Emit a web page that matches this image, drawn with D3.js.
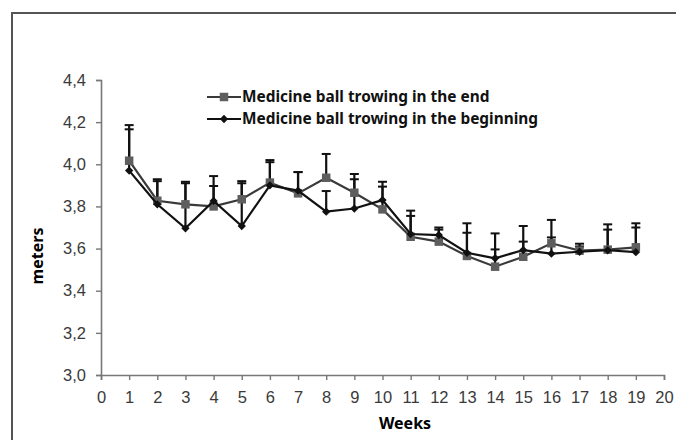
<!DOCTYPE html>
<html>
<head>
<meta charset="utf-8">
<script src="https://cdn.jsdelivr.net/npm/d3@7"></script>
<style>
    body { margin: 0; background: #fff; }
    svg { display: block; }
</style>
</head>
<body>
<div id="chart"></div>
<script>
// data
const weeks = [1, 2, 3, 4, 5, 6, 7, 8, 9, 10, 11, 12, 13, 14, 15, 16, 17, 18, 19];
const endMeans = [4.017, 3.827, 3.81, 3.80, 3.834, 3.913, 3.862, 3.936, 3.865, 3.786, 3.656, 3.633, 3.565, 3.514, 3.561, 3.625, 3.59, 3.595, 3.606];
const endTops = [4.186, 3.929, 3.917, 3.897, 3.92, 4.02, 3.963, 4.049, 3.954, 3.894, 3.78, 3.70, 3.72, 3.672, 3.707, 3.736, 3.623, 3.715, 3.72];
const beginMeans = [3.97, 3.81, 3.696, 3.826, 3.707, 3.90, 3.875, 3.775, 3.79, 3.83, 3.669, 3.664, 3.58, 3.554, 3.593, 3.576, 3.585, 3.592, 3.583];
const beginTops = [4.166, 3.92, 3.91, 3.944, 3.91, 4.01, 3.963, 3.873, 3.929, 3.917, 3.755, 3.69, 3.675, 3.596, 3.633, 3.653, 3.61, 3.69, 3.70];
const yTicks = [3.0, 3.2, 3.4, 3.6, 3.8, 4.0, 4.2, 4.4];
const xTicks = d3.range(0, 21);
const legendLabels = ["Medicine ball trowing in the end", "Medicine ball trowing in the beginning"];

const width = 676, height = 440;
const margin = {top: 80, right: 12, bottom: 65, left: 101};

const svg = d3.select("#chart").append("svg")
    .attr("width", width)
    .attr("height", height);

// outer frame (cropped on the right and bottom)
svg.append("rect")
    .attr("x", 12).attr("y", 13)
    .attr("width", width).attr("height", height)
    .attr("fill", "none")
    .attr("stroke", "#555")
    .attr("stroke-width", 2);

const x = d3.scaleLinear().domain([0, 20]).range([margin.left, width - margin.right]);
const y = d3.scaleLinear().domain([3.0, 4.4]).range([height - margin.bottom, margin.top]);

const fmt = d => d3.format(".1f")(d).replace(".", ",");

// axes
const yAxis = svg.append("g")
    .attr("transform", `translate(${margin.left},0)`)
    .call(d3.axisLeft(y).tickValues(yTicks).tickFormat(fmt).tickSize(5).tickPadding(10));
const xAxis = svg.append("g")
    .attr("transform", `translate(0,${y(3.0)})`)
    .call(d3.axisBottom(x).tickValues(xTicks).tickSize(5).tickPadding(11));

[xAxis, yAxis].forEach(g => {
    g.select(".domain").attr("stroke", "#777").attr("stroke-width", 1.6);
    g.selectAll(".tick line").attr("stroke", "#777").attr("stroke-width", 1.4);
    g.selectAll(".tick text")
        .attr("fill", "#3a3a3a")
        .style("font-family", "'Liberation Sans', Arial, sans-serif")
        .style("font-size", "16.5px");
});

// axis titles
svg.append("text")
    .attr("transform", `translate(43,256) rotate(-90)`)
    .attr("text-anchor", "middle")
    .style("font-family", "'Noto Sans', sans-serif")
    .style("font-weight", "bold")
    .style("font-size", "16px")
    .text("meters");
svg.append("text")
    .attr("x", 405).attr("y", 429)
    .attr("text-anchor", "middle")
    .style("font-family", "'Noto Sans', sans-serif")
    .style("font-weight", "bold")
    .style("font-size", "16px")
    .text("Weeks");

const series = [
    {name: legendLabels[0], means: endMeans, tops: endTops, line: "#3a3a3a", marker: "square", fill: "#5e5e5e"},
    {name: legendLabels[1], means: beginMeans, tops: beginTops, line: "#111", marker: "diamond", fill: "#111"}
];

const line = d3.line().x(d => x(d.w)).y(d => y(d.v));

// error bars first
series.forEach(s => {
    const pts = weeks.map((w, i) => ({w: w, v: s.means[i], top: s.tops[i]}));
    const eb = svg.append("g");
    eb.selectAll("line.stem").data(pts).enter().append("line")
        .attr("x1", d => x(d.w)).attr("x2", d => x(d.w))
        .attr("y1", d => y(d.v)).attr("y2", d => y(d.top))
        .attr("stroke", "#111").attr("stroke-width", 2.2);
    eb.selectAll("line.cap").data(pts).enter().append("line")
        .attr("x1", d => x(d.w) - 4.5).attr("x2", d => x(d.w) + 4.5)
        .attr("y1", d => y(d.top)).attr("y2", d => y(d.top))
        .attr("stroke", "#111").attr("stroke-width", 2);
});

const squareSym = d3.symbol().type(d3.symbolSquare).size(72);
const diamondSym = d3.symbol().type(d3.symbolDiamond2).size(44);

series.forEach(s => {
    const pts = weeks.map((w, i) => ({w: w, v: s.means[i]}));
    svg.append("path")
        .datum(pts)
        .attr("d", line)
        .attr("fill", "none")
        .attr("stroke", s.line)
        .attr("stroke-width", 2.2);
    svg.selectAll(null).data(pts).enter().append("path")
        .attr("d", s.marker === "square" ? squareSym : diamondSym)
        .attr("transform", d => `translate(${x(d.w)},${y(d.v)})`)
        .attr("fill", s.fill);
});

// legend
const legend = svg.append("g");
series.forEach((s, i) => {
    const ly = 97 + i * 22;
    legend.append("line")
        .attr("x1", 207).attr("x2", 241)
        .attr("y1", ly).attr("y2", ly)
        .attr("stroke", s.line).attr("stroke-width", 2.2);
    legend.append("path")
        .attr("d", s.marker === "square" ? squareSym : diamondSym)
        .attr("transform", `translate(224,${ly})`)
        .attr("fill", s.fill);
    legend.append("text")
        .attr("x", 242).attr("y", ly + 5)
        .style("font-family", "'Noto Sans', sans-serif")
        .style("font-weight", "bold")
        .style("font-size", "15.4px")
        .attr("fill", "#111")
        .text(s.name);
});
</script>
</body>
</html>
